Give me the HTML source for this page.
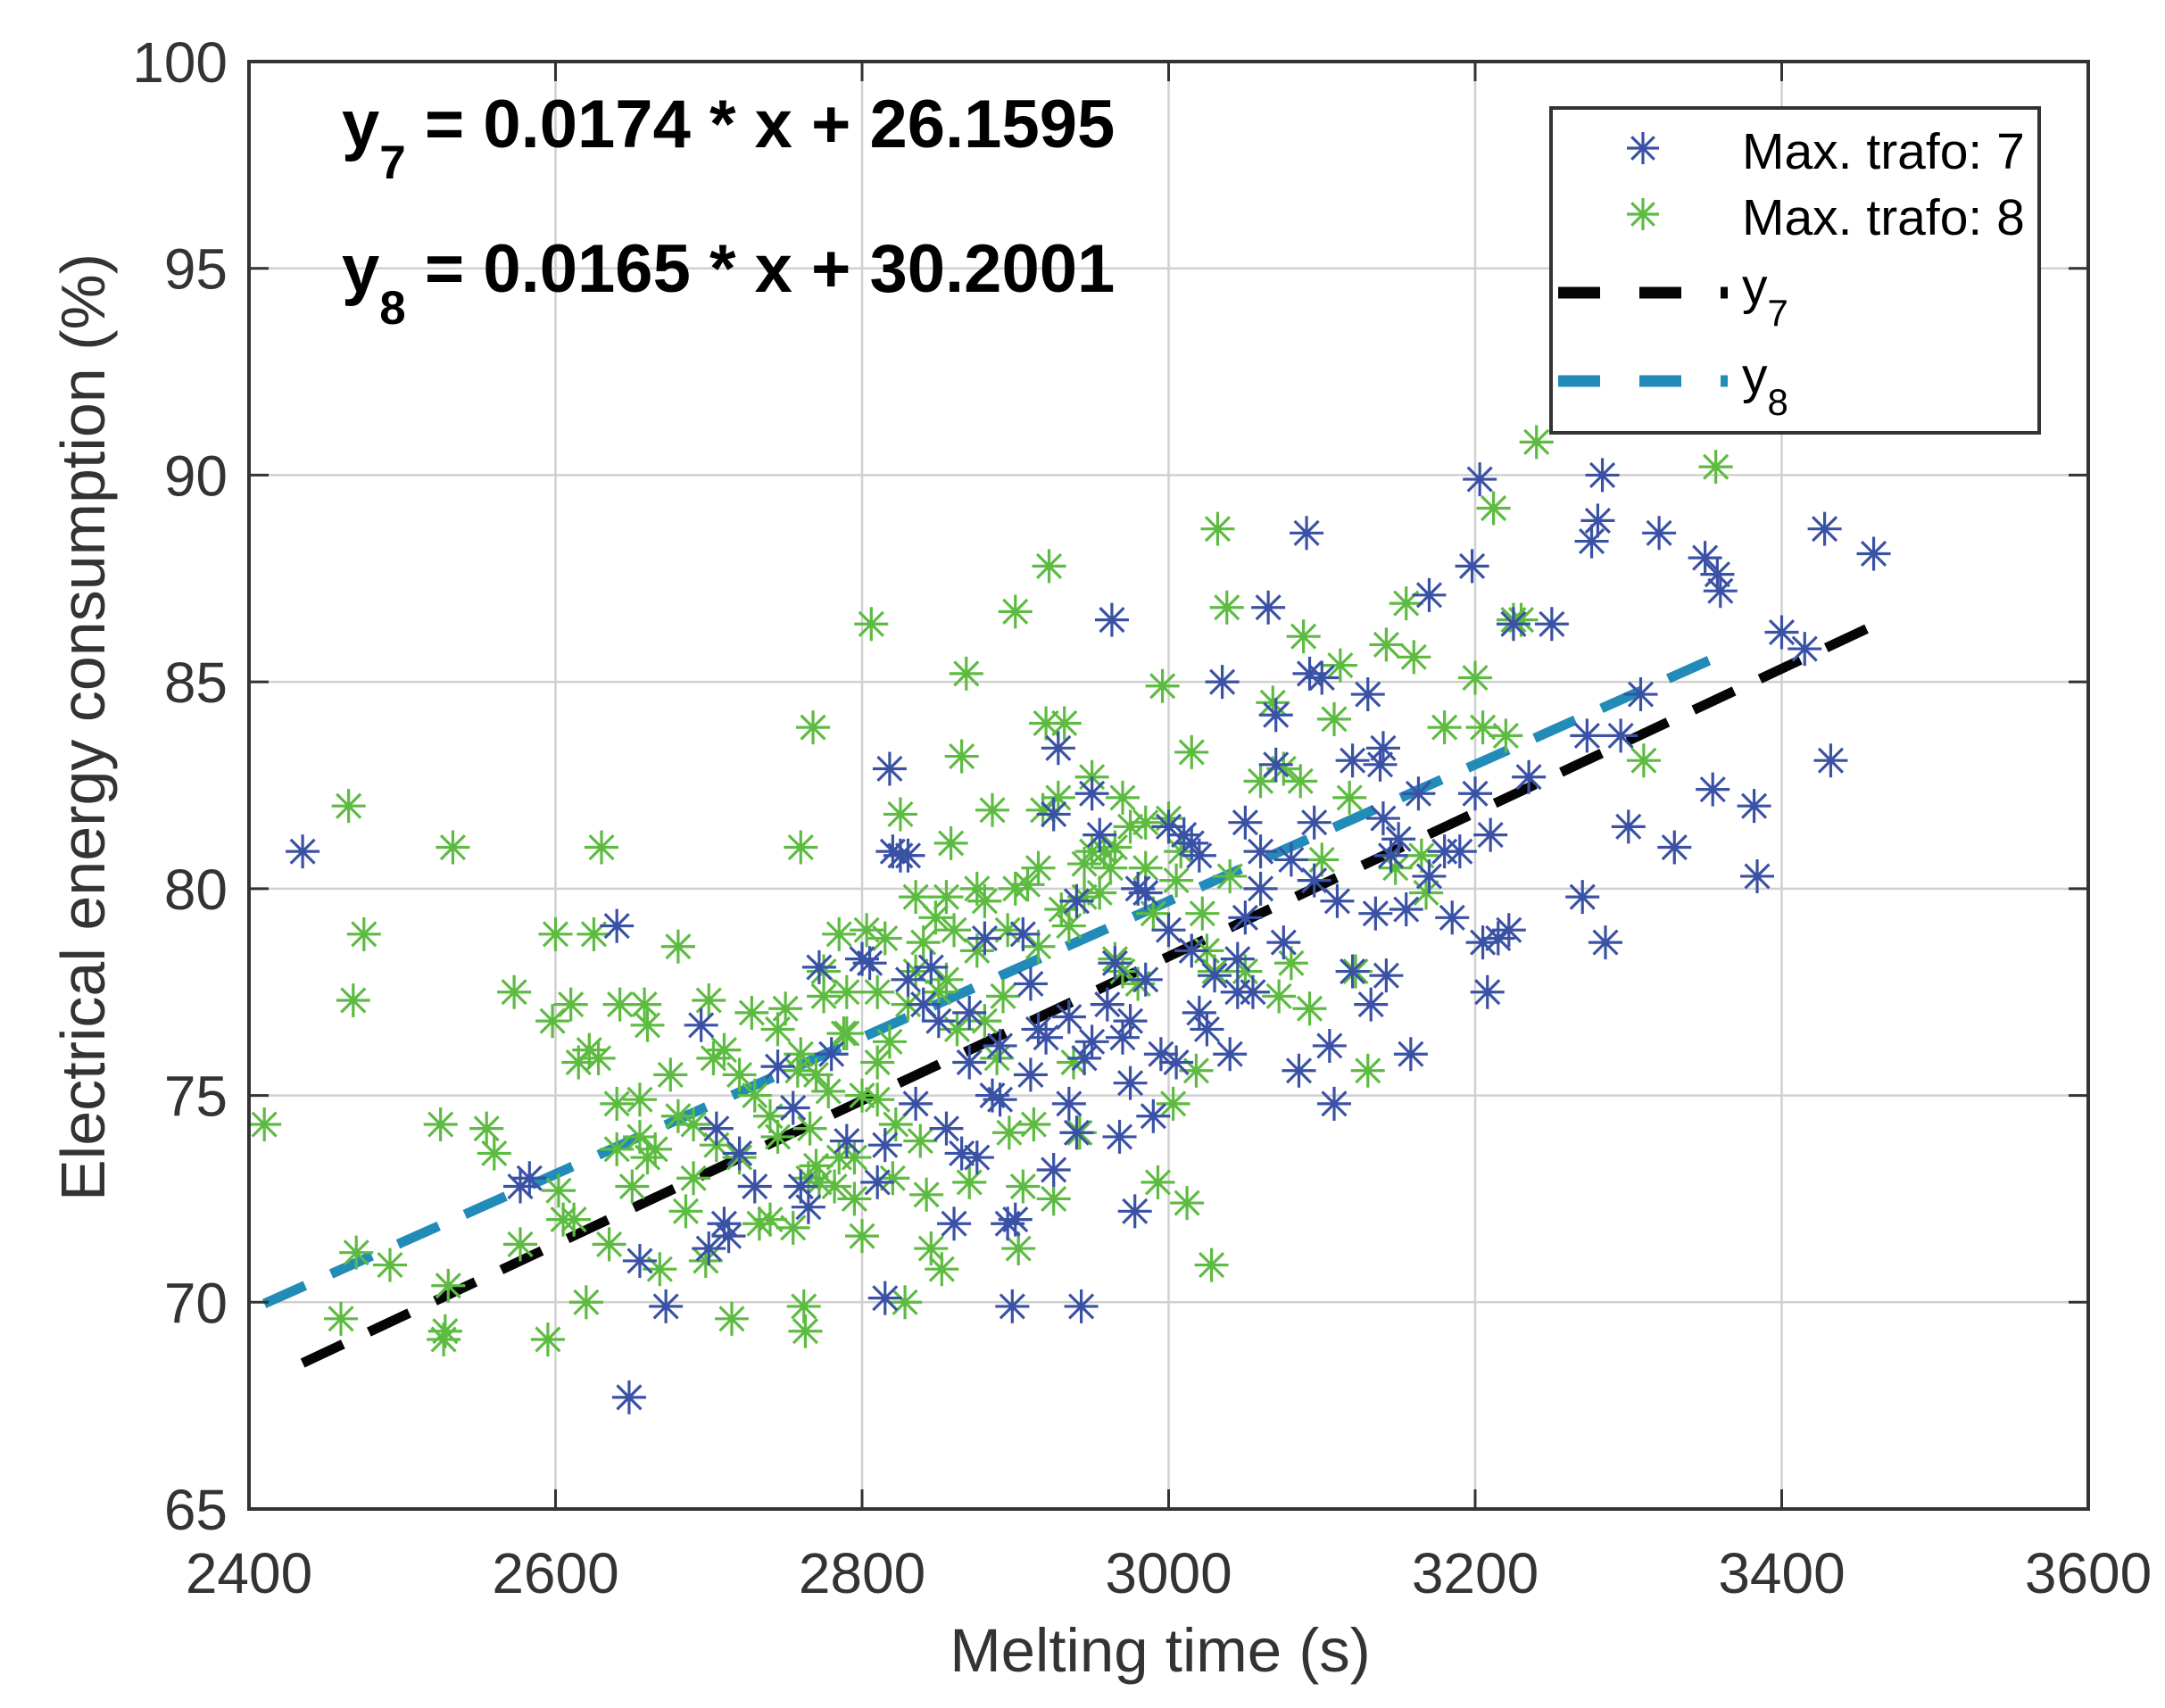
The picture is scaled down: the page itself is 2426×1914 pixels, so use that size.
<!DOCTYPE html>
<html><head><meta charset="utf-8"><style>
html,body{margin:0;padding:0;background:#fff;}
svg{display:block;font-family:"Liberation Sans",Arial,sans-serif;}
</style></head><body>
<svg id="chart" width="2426" height="1914" viewBox="0 0 2426 1914" xmlns="http://www.w3.org/2000/svg">
<rect x="0" y="0" width="2426" height="1914" fill="#fff"/>
<g id="grid"></g>
<g id="fits"></g>
<g id="pts"></g>
<g id="axes"></g>
<g font-weight="bold" font-size="76" fill="#000">
<text x="383" y="165">y<tspan font-size="53" dy="35">7</tspan><tspan dy="-35"> = 0.0174 * x + 26.1595</tspan></text>
<text x="383" y="327">y<tspan font-size="53" dy="36">8</tspan><tspan dy="-36"> = 0.0165 * x + 30.2001</tspan></text>
</g>
<g>
<rect x="1738" y="121" width="547" height="364" fill="#fff" stroke="#333" stroke-width="4"/>
<g id="legmk"></g>
<text x="1952" y="189" font-size="57" fill="#000">Max. trafo: 7</text>
<text x="1952" y="263" font-size="57" fill="#000">Max. trafo: 8</text>
<line x1="1746" y1="328" x2="1936" y2="328" stroke="#050505" stroke-width="13" stroke-dasharray="47 44"/>
<line x1="1746" y1="427" x2="1936" y2="427" stroke="#228bb8" stroke-width="13" stroke-dasharray="47 44"/>
<text x="1952" y="340" font-size="57" fill="#000">y<tspan font-size="42" dy="25">7</tspan></text>
<text x="1952" y="440" font-size="57" fill="#000">y<tspan font-size="42" dy="25">8</tspan></text>
</g>
<text x="1300" y="1873" font-size="69" fill="#333" text-anchor="middle">Melting time (s)</text>
<text transform="translate(117,815) rotate(-90)" font-size="70" fill="#333" text-anchor="middle">Electrical energy consumption (%)</text>
</svg>
<script>
const xTicks=[2400,2600,2800,3000,3200,3400,3600];
const yTicks=[65,70,75,80,85,90,95,100];
const fitSlopes=[0.0174,0.0165];
const fitIntercepts=[26.1595,30.2001];
const fitStartX=[2435,2410];
const fitEndX=[3460,3360];
const blueX=[2435,2640,2648,2655,2672,2577,2583,2695,2700,2705,2710,2713,2720,2730,2745,2755,2760,2765,2772,2780,2790,2800,2805,2810,2815,2818,2820,2825,2830,2835,2840,2845,2850,2855,2860,2865,2870,2875,2880,2885,2890,2895,2898,2900,2905,2910,2915,2920,2925,2928,2935,2940,2940,2943,2945,2950,2955,2963,2965,2968,2970,2975,2978,2980,2985,2990,2995,3000,3000,3005,3010,3015,3020,3025,3030,3035,3040,3045,3050,3050,3055,3060,3060,3065,3070,3070,3075,3080,3085,3090,3092,3095,3100,3105,3108,3110,3120,3120,3130,3132,3135,3138,3140,3140,3142,3145,3150,3155,3158,3163,3170,3170,3180,3185,3190,3198,3200,3203,3205,3208,3210,3215,3222,3225,3235,3250,3270,3273,3276,3280,3283,3285,3295,3300,3308,3320,3330,3350,3355,3358,3360,3382,3384,3400,3415,3428,3432,3460,2870,2910,2960,2985,3020,2830,2890,2935,3015,3045,2925,2975,3095,2815,2950];
const blueY=[80.9,79.1,67.7,71,69.9,72.8,73,76.7,71.3,74.2,71.9,71.6,73.6,72.8,75.7,74.7,72.8,72.3,78.1,76,73.9,78.3,78.2,72.9,70.1,82.9,80.9,80.8,80.8,74.8,77.2,78.1,76.8,74.2,71.9,73.6,75.8,73.5,78.8,75,74.9,71.9,69.9,72,78.9,77.7,76.6,76.4,81.8,83.4,76.9,74.1,79.7,69.9,75.9,82.3,81.3,86.5,78.2,74,76.4,75.3,72.2,80,79.9,74.5,76,79,81.5,75.8,81.3,81.1,80.8,76.6,77.9,85,76,77.5,81.6,79.3,77.5,80,80.9,86.8,83,84.2,78.7,80.7,75.6,88.6,85.2,81.6,85.1,76.2,74.8,79.7,83.1,78,84.7,77.2,79.4,83,81.7,83.4,77.9,80.8,81.2,79.5,76,82.3,87.1,80.3,80.9,79.3,80.9,87.8,82.3,89.9,78.7,77.5,81.3,78.8,79,86.4,82.7,86.4,79.8,83.7,88.4,88.9,90,78.7,83.7,81.5,84.7,88.6,81,88,82.4,87.6,87.2,82,80.3,86.2,85.8,88.7,83.1,88.1,77,75.5,77.2,77.8,77,77.8,76.2,74.8,78.5,78.3,73.2,76.8,80.2,73.8,76.3];
const greenX=[2410,2465,2468,2470,2475,2460,2492,2525,2527,2528,2530,2533,2555,2560,2573,2577,2595,2598,2600,2602,2605,2610,2612,2615,2620,2622,2625,2628,2630,2635,2640,2642,2650,2655,2655,2658,2660,2665,2668,2675,2680,2685,2690,2690,2698,2700,2703,2710,2715,2720,2720,2728,2733,2740,2740,2745,2750,2755,2758,2760,2760,2762,2763,2766,2768,2770,2772,2775,2775,2778,2782,2785,2788,2790,2795,2800,2800,2803,2806,2810,2810,2815,2818,2820,2822,2825,2828,2830,2835,2838,2840,2842,2845,2848,2850,2852,2855,2858,2860,2862,2865,2868,2870,2875,2880,2880,2885,2888,2892,2896,2900,2900,2902,2905,2908,2912,2915,2918,2920,2922,2925,2928,2930,2932,2935,2938,2942,2945,2950,2950,2955,2958,2962,2965,2970,2970,2975,2980,2985,2990,2993,2996,3000,3003,3008,3012,3015,3018,3022,3028,3030,3032,3038,3040,3050,3060,3068,3072,3075,3080,3086,3088,3092,3100,3108,3112,3118,3122,3130,3142,3148,3155,3160,3165,3168,3180,3200,3205,3212,3220,3225,3230,3240,3310,3357,2745,2765,2785,2795,2770,2730,2705,2680,2660,2640,2790,2810,2835,2855,2875,2895,2915,2945,2965,2985,3005,3025];
const greenY=[74.3,82,77.3,71.2,78.9,69.6,70.9,74.3,69.1,69.3,70.4,81,74.2,73.6,77.5,71.4,69.1,76.8,78.9,72.7,72,77.2,72,75.8,70,76.1,78.9,75.9,81,71.4,73.7,77.2,72.8,74.9,74,77.2,76.7,73.7,70.8,75.5,78.6,72.2,74.3,73,71,77.3,75.9,76.1,69.6,75.5,73.5,77,71.9,74.5,72,76.6,77.1,71.8,75.6,81,76,69.9,69.3,74.2,83.9,73.3,72.9,77.4,78,75.1,72.8,78.9,76.5,77.5,73.5,71.6,75,79,86.4,75.8,74.9,78.8,76.3,73,74.3,81.8,70,77.2,79.8,73.9,78.7,72.6,71.3,79.3,77.5,70.8,79.8,81.1,79,76.6,83.2,85.2,72.9,80,79.7,76.8,81.9,75.9,77.4,74.1,86.7,80,71.3,72.8,80.1,74.3,78.6,81.9,84,87.8,72.5,82.2,79.5,84,79.1,75.8,74.1,80.6,82.7,80.9,79.9,80.9,80.5,78.3,82.2,78,81.5,77.7,81.6,79.4,72.9,84.9,81.7,74.8,80.9,72.4,83.3,75.6,79.4,70.9,78,88.7,86.8,80.3,78,82.6,84.5,77.4,82.9,78.2,82.6,86.1,77.1,80.7,84.1,85.4,82.2,78,75.6,85.9,80.5,86.9,85.6,80.8,79.9,83.9,85.1,83.9,89.2,83.7,86.5,86.5,90.8,83.1,90.2,74,73,73.5,72.5,75.5,75,73.8,74.5,73.5,74.8,76.5,77.5,78,77.8,78.5,79,80.5,79.8,81,80.5,80.2,78.5];

const L=279,R=2340,T=69,B=1691;
const xs=v=>L+(v-2400)/1200*(R-L);
const ys=v=>B-(v-65)/35*(B-T);
const NS='http://www.w3.org/2000/svg';
function mk(tag,attrs,parent){const e=document.createElementNS(NS,tag);for(const k in attrs)e.setAttribute(k,attrs[k]);parent.appendChild(e);return e;}
const grid=document.getElementById('grid'),axes=document.getElementById('axes');
xTicks.forEach(t=>{
  const g=mk('line',{x1:xs(t),x2:xs(t),y1:T,y2:B,stroke:'#d0d0d0','stroke-width':2.5},grid);
  
  
  const a=mk('path',{d:`M${xs(t)},${B}v-22M${xs(t)},${T}v22`,stroke:'#333','stroke-width':3},axes);
  
  
  const lb=mk('text',{x:xs(t),y:1785,'font-size':64,fill:'#333','text-anchor':'middle'},axes);
  lb.textContent=t;
  
  
});
yTicks.forEach(t=>{
  const g=mk('line',{x1:L,x2:R,y1:ys(t),y2:ys(t),stroke:'#d0d0d0','stroke-width':2.5},grid);
  
  
  const a=mk('path',{d:`M${L},${ys(t)}h22M${R},${ys(t)}h-22`,stroke:'#333','stroke-width':3},axes);
  
  
  const lb=mk('text',{x:255,y:ys(t)+23,'font-size':64,fill:'#333','text-anchor':'end'},axes);
  lb.textContent=t;
  
  
});
const fr=mk('rect',{x:L,y:T,width:R-L,height:B-T,fill:'none',stroke:'#333','stroke-width':4},axes);



function star(cx,cy,col,parent,r){
  const d=r*0.7071;
  return mk('path',{d:`M${cx-r},${cy}h${2*r}M${cx},${cy-r}v${2*r}M${cx-d},${cy-d}l${2*d},${2*d}M${cx-d},${cy+d}l${2*d},${-2*d}`,stroke:col,'stroke-width':3.2,fill:'none'},parent);
}
const pts=document.getElementById('pts');
greenX.forEach((x,i)=>{
  const p=star(xs(x),ys(greenY[i]),'#5dbb41',pts,19);
  
  
});
blueX.forEach((x,i)=>{
  const p=star(xs(x),ys(blueY[i]),'#3a52a5',pts,19);
  
  
});
const fits=document.getElementById('fits');
const fitColors=['#050505','#228bb8'];
fitSlopes.forEach((s,i)=>{
  const x1=fitStartX[i],x2=fitEndX[i];
  const l=mk('line',{x1:xs(x1),y1:ys(s*x1+fitIntercepts[i]),x2:xs(x2),y2:ys(s*x2+fitIntercepts[i]),stroke:fitColors[i],'stroke-width':11,'stroke-dasharray':'50 32'},fits);
  
  
});
const lm=document.getElementById('legmk');
const m1=star(1841,166,'#3a52a5',lm,18);


const m2=star(1841,240,'#5dbb41',lm,18);


</script>
</body></html>
